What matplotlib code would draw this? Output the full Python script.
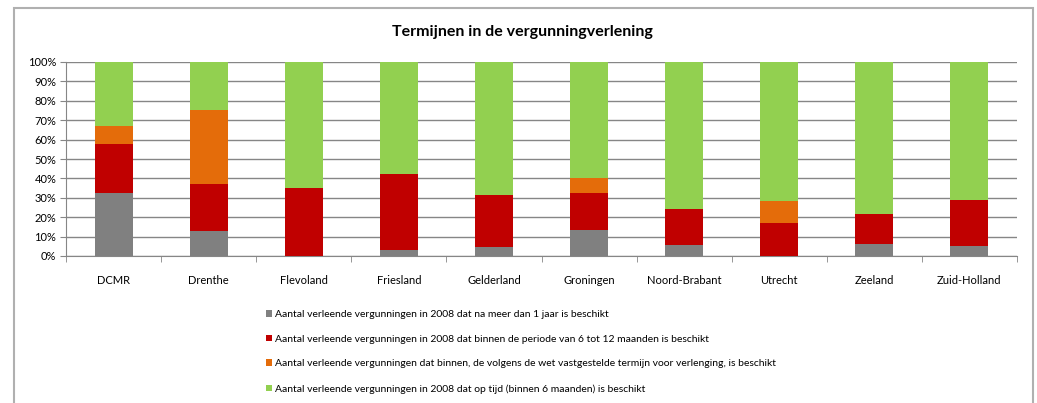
import matplotlib.pyplot as plt
import numpy as np
from matplotlib.patches import Rectangle
from matplotlib.ticker import PercentFormatter

categories = ["DCMR", "Drenthe", "Flevoland", "Friesland", "Gelderland",
              "Groningen", "Noord-Brabant", "Utrecht", "Zeeland", "Zuid-Holland"]
# percentages per category (stacked bottom -> top)
meer_dan_1_jaar = [32.5, 12.9, 0.0, 3.1, 4.5, 13.4, 5.7, 0.0, 6.2, 5.0]
zes_tot_12_mnd = [25.2, 24.4, 34.9, 39.0, 26.8, 19.1, 18.4, 16.8, 15.6, 24.0]
wettelijke_termijn = [9.3, 37.8, 0.0, 0.0, 0.0, 7.9, 0.0, 11.5, 0.0, 0.0]
op_tijd = [33.0, 24.9, 65.1, 57.9, 68.7, 59.6, 75.9, 71.7, 78.2, 71.0]

labels = [
    "Aantal verleende vergunningen in 2008 dat na meer dan 1 jaar is beschikt",
    "Aantal verleende vergunningen in 2008 dat binnen de periode van 6 tot 12 maanden is beschikt",
    "Aantal verleende vergunningen dat binnen, de volgens de wet vastgestelde termijn voor verlenging, is beschikt",
    "Aantal verleende vergunningen in 2008 dat op tijd (binnen 6 maanden) is beschikt",
]
colors = ["#808080", "#C00000", "#E46C0A", "#92D050"]

plt.rcParams["font.family"] = ["Lato", "DejaVu Sans"]

fig = plt.figure(figsize=(10.37, 4.03), dpi=100)
ax = fig.add_axes([66 / 1037, 1 - 256 / 403, 951 / 1037, 194 / 403])

# outer chart border
fig.patches.append(Rectangle((14 / 1037, -0.05), 1019 / 1037, 1.05 - 8 / 403,
                             transform=fig.transFigure, fill=False,
                             edgecolor="#b0b0b0", linewidth=1.5))

x = np.arange(len(categories))
series = [meer_dan_1_jaar, zes_tot_12_mnd, wettelijke_termijn, op_tijd]
bottom = np.zeros(len(categories))
handles = []
for vals, col in zip(series, colors):
    b = ax.bar(x, vals, width=0.4, bottom=bottom, color=col, zorder=3)
    handles.append(b)
    bottom += np.array(vals)

ax.set_xlim(-0.5, len(categories) - 0.5)
ax.set_ylim(0, 100)
ax.set_yticks(np.arange(0, 101, 10))
ax.yaxis.set_major_formatter(PercentFormatter(decimals=0))
ax.set_xticks(x)
ax.set_xticklabels(categories)
ax.set_xticks(np.arange(-0.5, len(categories)), minor=True)
ax.tick_params(axis="x", which="major", length=0, pad=14, labelsize=8)
ax.tick_params(axis="x", which="minor", length=4, color="#868686", direction="out")
ax.tick_params(axis="y", length=4, color="#868686", labelsize=8, pad=3)
ax.grid(axis="y", color="#868686", linewidth=1, zorder=0)
for s in ["top", "right"]:
    ax.spines[s].set_visible(False)
for s in ["left", "bottom"]:
    ax.spines[s].set_color("#868686")

fig.text(522 / 1037, 1 - 32 / 403, "Termijnen in de vergunningverlening",
         ha="center", va="center", fontsize=11.5, fontweight="bold")

fig.legend(handles, labels, loc="upper left",
           bbox_to_anchor=(261 / 1037, 1 - 305 / 403), frameon=False,
           fontsize=7.5, handlelength=0.6, handleheight=0.6,
           handletextpad=0.25, labelspacing=1.5, borderpad=0)

fig.savefig("out.png", dpi=100)
